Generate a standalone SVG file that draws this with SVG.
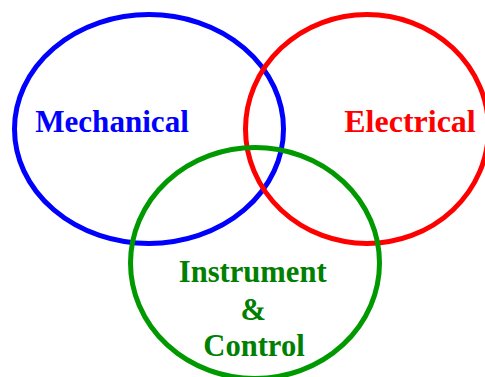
<svg xmlns="http://www.w3.org/2000/svg" width="485" height="377" viewBox="0 0 485 377">
<style>
.ring{fill:none;stroke-width:5}
.lbl{font-family:"Liberation Serif","Times New Roman",serif;font-weight:bold;font-size:30.6px;text-anchor:middle}
</style>
<rect width="485" height="377" fill="#fff"/>
<g id="mechanical">
<ellipse class="ring" cx="149" cy="129" rx="134.5" ry="114.5" stroke="#0000ff"/>
<text class="lbl" x="112" y="131.7" fill="#0000ff" style="font-size:31.1px">Mechanical</text>
</g>
<g id="electrical">
<ellipse class="ring" cx="367" cy="129" rx="121.5" ry="114.5" stroke="#ff0000"/>
<text class="lbl" x="410" y="131.7" fill="#ff0000" style="font-size:32px">Electrical</text>
</g>
<g id="instrument-control">
<ellipse class="ring" cx="255" cy="263" rx="124.5" ry="115.5" stroke="#009900"/>
<text class="lbl" fill="#008000"><tspan x="252.7" y="281.7">Instrument</tspan><tspan x="253.3" y="319.5">&amp;</tspan><tspan x="254" y="355.5">Control</tspan></text>
</g>
<g id="connectors"/>
</svg>
